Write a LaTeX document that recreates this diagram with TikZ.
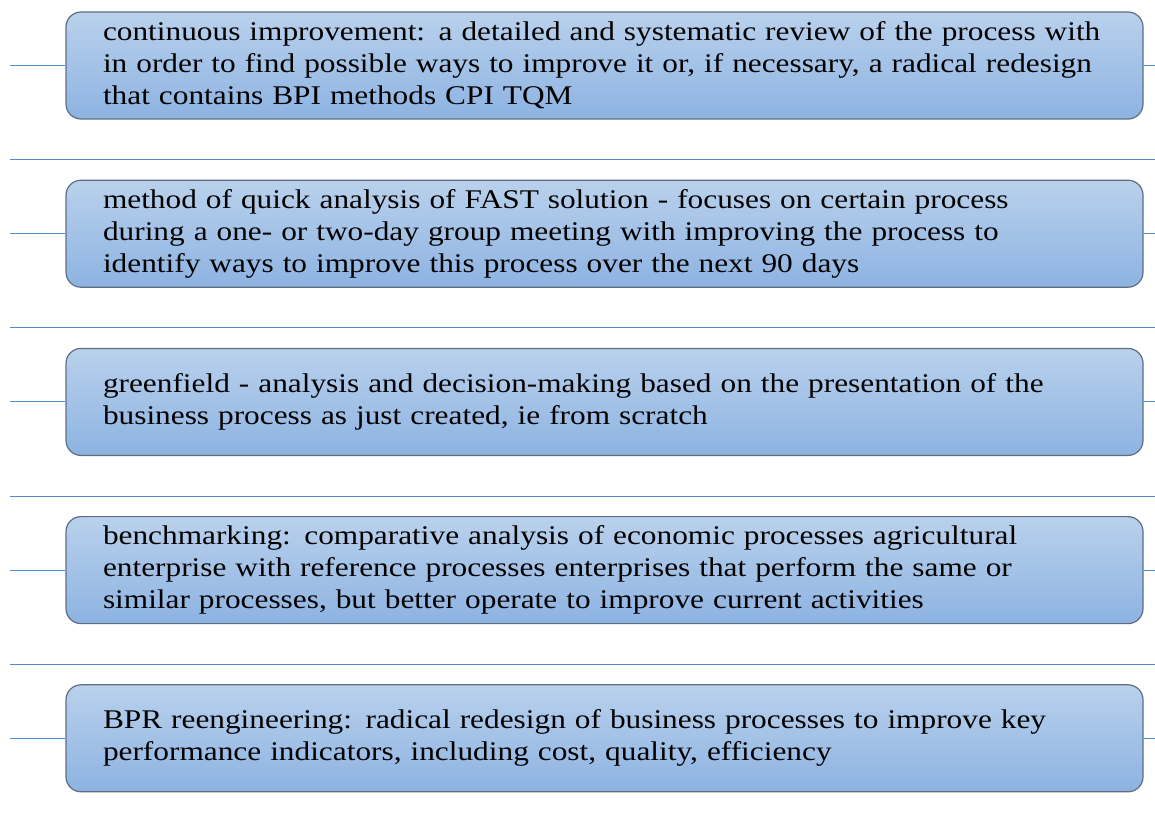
\documentclass[tikz,border=0pt]{standalone}
\usepackage{fontspec}
\setmainfont{Liberation Serif}[FakeStretch=1.16]
\usetikzlibrary{positioning,calc}

\definecolor{boxtop}{HTML}{B9D1EC}
\definecolor{boxbot}{HTML}{8DB3E2}
\definecolor{boxedge}{HTML}{5E6E82}
\definecolor{rulecol}{HTML}{4F8BCB}

\begin{document}
\begin{tikzpicture}[x=1pt, y=-1pt,
    methodbox/.style={rectangle, rounded corners=15pt, draw=boxedge, line width=1.2pt,
        top color=boxtop, bottom color=boxbot, minimum width=1077pt, minimum height=107pt,
        text width=1003pt, inner xsep=37pt, align=left, font=\fontsize{27}{32}\selectfont},
    rule/.style={draw=rulecol, line width=0.9pt},
    node distance=60pt
    ]
        \useasboundingbox (0,0) rectangle (1155,818);
        \coordinate (l) at (10,0);
        \coordinate (r) at (1155,0);

        %Nodes
        \node[methodbox]
            (cpi)   at (604.5,65.5) {continuous improvement: a detailed and systematic review of the process with\\
                in order to find possible ways to improve it or, if necessary, a radical redesign\\
                that contains BPI methods CPI TQM};
        \node[methodbox]
            (fast)  [below=of cpi]  {method of quick analysis of FAST solution - focuses on certain process\\
                during a one- or two-day group meeting with improving the process to\\
                identify ways to improve this process over the next 90 days};
        \node[methodbox]
            (green) [below=of fast] {greenfield - analysis and decision-making based on the presentation of the\\
                business process as just created, ie from scratch};
        \node[methodbox]
            (bench) [below=of green] {benchmarking: comparative analysis of economic processes agricultural\\
                enterprise with reference processes enterprises that perform the same or\\
                similar processes, but better operate to improve current activities};
        \node[methodbox]
            (bpr)   [below=of bench] {BPR reengineering: radical redesign of business processes to improve key\\
                performance indicators, including cost, quality, efficiency};

        %Lines
        \foreach \b in {cpi,fast,green,bench,bpr}{
            \draw[rule] (\b.west) -- (\b.west -| l);
            \draw[rule] (\b.east) -- (\b.east -| r);
        }
        \foreach \b in {fast,green,bench,bpr}{
            \draw[rule] ([yshift=20pt]\b.north -| l) -- ([yshift=20pt]\b.north -| r);
        }
\end{tikzpicture}
\end{document}
